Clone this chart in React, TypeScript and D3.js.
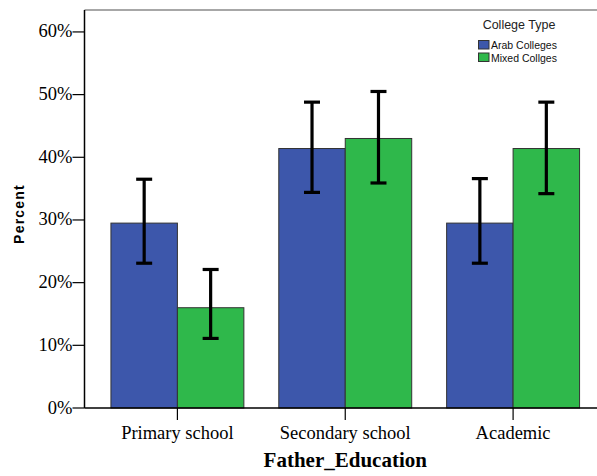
import React from "react";
import * as d3 from "d3";

const categories = ["Primary school", "Secondary school", "Academic"];
const seriesNames = ["Arab Colleges", "Mixed Collges"];
const arabValues = [29.5, 41.4, 29.5];
const mixedValues = [16.0, 43.0, 41.4];
const arabLow = [23.1, 34.4, 23.1];
const arabHigh = [36.5, 48.8, 36.6];
const mixedLow = [11.1, 35.9, 34.2];
const mixedHigh = [22.1, 50.5, 48.8];
const yTicks = [0, 10, 20, 30, 40, 50, 60];
const colors = ["#3d57ab", "#2fb84b"];

export default function App() {
  const W = 597, H = 476;
  const left = 84.5, right = 606, top = 10, bottom = 408;
  const y = d3.scaleLinear().domain([0, 63.5]).range([bottom, top]);
  const x = d3.scaleBand<string>().domain(categories).range([left, right]).paddingInner(0.208).paddingOuter(0.1575);
  const xs = d3.scaleBand<string>().domain(seriesNames).range([0, x.bandwidth()]);
  const values = [arabValues, mixedValues];
  const lows = [arabLow, mixedLow];
  const highs = [arabHigh, mixedHigh];
  const cap = 8;
  return (
    <svg width={W} height={H} style={{ position: "absolute", left: 0, top: 0, background: "#fff" }}>
      <rect x={0} y={0} width={W} height={H} fill="#fff" />
      {/* frame */}
      <line x1={left} x2={W} y1={top} y2={top} stroke="#8a8a8a" strokeWidth={1.5} />
      {/* bars */}
      {seriesNames.map((s, si) =>
        categories.map((c, ci) => {
          const x0 = (x(c) as number) + (xs(s) as number);
          const v = values[si][ci];
          return (
            <rect key={s + c} x={x0} y={y(v)} width={xs.bandwidth()} height={bottom - y(v)}
              fill={colors[si]} stroke="#333" strokeWidth={1} />
          );
        })
      )}
      {/* error bars */}
      {seriesNames.map((s, si) =>
        categories.map((c, ci) => {
          const cx = (x(c) as number) + (xs(s) as number) + xs.bandwidth() / 2;
          const lo = y(lows[si][ci]);
          const hi = y(highs[si][ci]);
          return (
            <g key={"e" + s + c} stroke="#000" strokeWidth={3.2}>
              <line x1={cx} x2={cx} y1={hi} y2={lo} />
              <line x1={cx - cap} x2={cx + cap} y1={hi} y2={hi} />
              <line x1={cx - cap} x2={cx + cap} y1={lo} y2={lo} />
            </g>
          );
        })
      )}
      {/* axes */}
      <line x1={left} x2={left} y1={top} y2={bottom} stroke="#000" strokeWidth={1.5} />
      <line x1={left} x2={W} y1={bottom} y2={bottom} stroke="#000" strokeWidth={1.5} />
      {yTicks.map((t) => (
        <g key={t}>
          <line x1={left - 12} x2={left} y1={y(t)} y2={y(t)} stroke="#000" strokeWidth={1.2} />
          <text x={left - 12} y={y(t) + 5.5} textAnchor="end" fontFamily="Liberation Serif, Times New Roman, serif" fontSize={18.5}>{t + "%"}</text>
        </g>
      ))}
      {categories.map((c) => {
        const cx = (x(c) as number) + x.bandwidth() / 2;
        return (
          <g key={c}>
            <line x1={cx} x2={cx} y1={bottom} y2={bottom + 12} stroke="#000" strokeWidth={1.2} />
            <text x={cx} y={439} textAnchor="middle" fontFamily="Liberation Serif, Times New Roman, serif" fontSize={18.5}>{c}</text>
          </g>
        );
      })}
      <text x={(left + 606) / 2} y={466.5} textAnchor="middle" fontFamily="Liberation Serif, Times New Roman, serif" fontWeight="bold" fontSize={21}>Father_Education</text>
      <text transform="translate(24,214) rotate(-90)" textAnchor="middle" fontFamily="Liberation Sans, Arial, sans-serif" fontWeight="bold" fontSize={14} letterSpacing={1.2}>Percent</text>
      {/* legend */}
      <text x={519} y={29} textAnchor="middle" fontFamily="Liberation Sans, Arial, sans-serif" fontSize={12.5} fill="#222">College Type</text>
      {seriesNames.map((s, i) => (
        <g key={"l" + s}>
          <rect x={478.5} y={40.5 + i * 12.5} width={10.5} height={8.5} fill={colors[i]} stroke="#333" strokeWidth={1} />
          <text x={491} y={49 + i * 12.5} fontFamily="Liberation Sans, Arial, sans-serif" fontSize={10.5} fill="#111">{s}</text>
        </g>
      ))}
    </svg>
  );
}
